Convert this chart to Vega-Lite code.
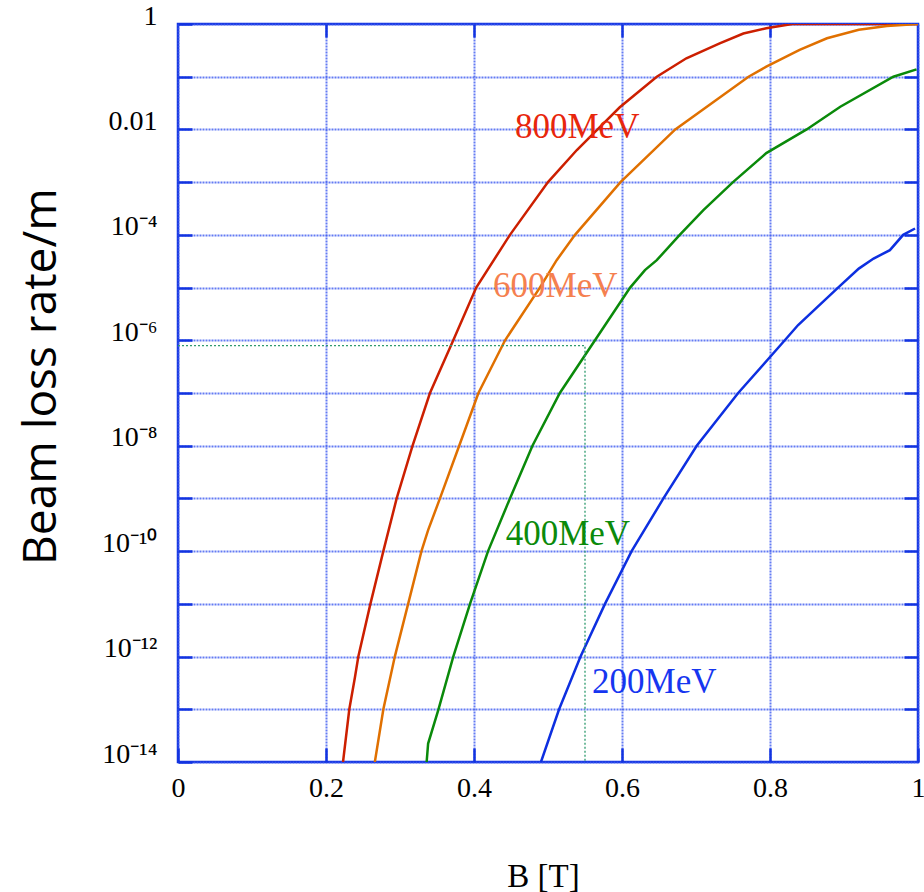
{
  "$schema": "https://vega.github.io/schema/vega-lite/v6.json",
  "autosize": "none",
  "width": 740,
  "height": 738,
  "padding": {"left": 178, "top": 24, "right": 6, "bottom": 130},
  "background": "white",
  "config": {
    "view": {"stroke": "#1233e0", "strokeWidth": 2.5},
    "axis": {
      "labelFont": "Liberation Serif",
      "labelFontSize": 28,
      "labelColor": "black",
      "titleColor": "black",
      "domain": false,
      "tickColor": "#1233e0",
      "tickWidth": 2.5,
      "tickSize": -14,
      "gridColor": "#3d5af0",
      "gridOpacity": 0.8,
      "gridWidth": 2,
      "gridDash": [2, 1]
    }
  },
  "datasets": {
    "curves": [
      {"B": 0.223, "rate": 1e-14, "energy": "800MeV"},
      {"B": 0.2315, "rate": 1e-13, "energy": "800MeV"},
      {"B": 0.239, "rate": 3.98e-13, "energy": "800MeV"},
      {"B": 0.2437, "rate": 1e-12, "energy": "800MeV"},
      {"B": 0.26, "rate": 1e-11, "energy": "800MeV"},
      {"B": 0.2775, "rate": 1e-10, "energy": "800MeV"},
      {"B": 0.2955, "rate": 1e-9, "energy": "800MeV"},
      {"B": 0.317, "rate": 1e-8, "energy": "800MeV"},
      {"B": 0.3405, "rate": 1e-7, "energy": "800MeV"},
      {"B": 0.372, "rate": 1e-6, "energy": "800MeV"},
      {"B": 0.403, "rate": 1e-5, "energy": "800MeV"},
      {"B": 0.4486, "rate": 1e-4, "energy": "800MeV"},
      {"B": 0.5, "rate": 1e-3, "energy": "800MeV"},
      {"B": 0.539, "rate": 4.07e-3, "energy": "800MeV"},
      {"B": 0.567, "rate": 1e-2, "energy": "800MeV"},
      {"B": 0.597, "rate": 2.63e-2, "energy": "800MeV"},
      {"B": 0.647, "rate": 0.1, "energy": "800MeV"},
      {"B": 0.687, "rate": 0.224, "energy": "800MeV"},
      {"B": 0.732, "rate": 0.427, "energy": "800MeV"},
      {"B": 0.764, "rate": 0.661, "energy": "800MeV"},
      {"B": 0.795, "rate": 0.832, "energy": "800MeV"},
      {"B": 0.83, "rate": 1, "energy": "800MeV"},
      {"B": 1.0, "rate": 1, "energy": "800MeV"},

      {"B": 0.266, "rate": 1e-14, "energy": "600MeV"},
      {"B": 0.2775, "rate": 1e-13, "energy": "600MeV"},
      {"B": 0.293, "rate": 1e-12, "energy": "600MeV"},
      {"B": 0.311, "rate": 1e-11, "energy": "600MeV"},
      {"B": 0.329, "rate": 1e-10, "energy": "600MeV"},
      {"B": 0.338, "rate": 2.51e-10, "energy": "600MeV"},
      {"B": 0.354, "rate": 1e-9, "energy": "600MeV"},
      {"B": 0.38, "rate": 1e-8, "energy": "600MeV"},
      {"B": 0.406, "rate": 1e-7, "energy": "600MeV"},
      {"B": 0.442, "rate": 1e-6, "energy": "600MeV"},
      {"B": 0.489, "rate": 1e-5, "energy": "600MeV"},
      {"B": 0.5117, "rate": 3.31e-5, "energy": "600MeV"},
      {"B": 0.5365, "rate": 1e-4, "energy": "600MeV"},
      {"B": 0.598, "rate": 1e-3, "energy": "600MeV"},
      {"B": 0.672, "rate": 1e-2, "energy": "600MeV"},
      {"B": 0.771, "rate": 0.1, "energy": "600MeV"},
      {"B": 0.795, "rate": 0.155, "energy": "600MeV"},
      {"B": 0.84, "rate": 0.324, "energy": "600MeV"},
      {"B": 0.877, "rate": 0.537, "energy": "600MeV"},
      {"B": 0.92, "rate": 0.776, "energy": "600MeV"},
      {"B": 0.958, "rate": 0.912, "energy": "600MeV"},
      {"B": 1.0, "rate": 1, "energy": "600MeV"},

      {"B": 0.336, "rate": 1e-14, "energy": "400MeV"},
      {"B": 0.338, "rate": 2.24e-14, "energy": "400MeV"},
      {"B": 0.352, "rate": 1e-13, "energy": "400MeV"},
      {"B": 0.372, "rate": 1e-12, "energy": "400MeV"},
      {"B": 0.3946, "rate": 1e-11, "energy": "400MeV"},
      {"B": 0.419, "rate": 1e-10, "energy": "400MeV"},
      {"B": 0.4486, "rate": 1e-9, "energy": "400MeV"},
      {"B": 0.479, "rate": 1e-8, "energy": "400MeV"},
      {"B": 0.516, "rate": 1e-7, "energy": "400MeV"},
      {"B": 0.5635, "rate": 1e-6, "energy": "400MeV"},
      {"B": 0.611, "rate": 1e-5, "energy": "400MeV"},
      {"B": 0.631, "rate": 2.14e-5, "energy": "400MeV"},
      {"B": 0.647, "rate": 3.31e-5, "energy": "400MeV"},
      {"B": 0.678, "rate": 1e-4, "energy": "400MeV"},
      {"B": 0.71, "rate": 2.95e-4, "energy": "400MeV"},
      {"B": 0.75, "rate": 1e-3, "energy": "400MeV"},
      {"B": 0.795, "rate": 3.55e-3, "energy": "400MeV"},
      {"B": 0.8495, "rate": 1e-2, "energy": "400MeV"},
      {"B": 0.895, "rate": 2.69e-2, "energy": "400MeV"},
      {"B": 0.9667, "rate": 0.1, "energy": "400MeV"},
      {"B": 0.998, "rate": 0.138, "energy": "400MeV"},

      {"B": 0.4905, "rate": 1e-14, "energy": "200MeV"},
      {"B": 0.515, "rate": 1e-13, "energy": "200MeV"},
      {"B": 0.544, "rate": 1e-12, "energy": "200MeV"},
      {"B": 0.577, "rate": 1e-11, "energy": "200MeV"},
      {"B": 0.613, "rate": 1e-10, "energy": "200MeV"},
      {"B": 0.656, "rate": 1e-9, "energy": "200MeV"},
      {"B": 0.701, "rate": 1e-8, "energy": "200MeV"},
      {"B": 0.757, "rate": 1e-7, "energy": "200MeV"},
      {"B": 0.82, "rate": 1e-6, "energy": "200MeV"},
      {"B": 0.838, "rate": 1.95e-6, "energy": "200MeV"},
      {"B": 0.892, "rate": 1e-5, "energy": "200MeV"},
      {"B": 0.92, "rate": 2.29e-5, "energy": "200MeV"},
      {"B": 0.94, "rate": 3.55e-5, "energy": "200MeV"},
      {"B": 0.962, "rate": 5.13e-5, "energy": "200MeV"},
      {"B": 0.98, "rate": 1e-4, "energy": "200MeV"},
      {"B": 0.996, "rate": 1.32e-4, "energy": "200MeV"}
    ],
    "refline": [
      {"B": 0, "rate": 7.9e-7, "seq": 0},
      {"B": 0.55, "rate": 7.9e-7, "seq": 1},
      {"B": 0.55, "rate": 1e-14, "seq": 2}
    ],
    "labels": [
      {"B": 0.4554, "rate": 6.78e-3, "label": "800MeV"},
      {"B": 0.4257, "rate": 6.52e-6, "label": "600MeV"},
      {"B": 0.4428, "rate": 1.3e-10, "label": "400MeV"},
      {"B": 0.5595, "rate": 2.0e-13, "label": "200MeV"}
    ]
  },
  "resolve": {
    "scale": {"color": "independent"},
    "axis": {"x": "independent", "y": "independent"}
  },
  "layer": [
    {
      "data": {"name": "curves"},
      "mark": {"type": "line", "strokeWidth": 2.5, "clip": true},
      "encoding": {
        "x": {
          "field": "B", "type": "quantitative",
          "scale": {"domain": [0, 1], "nice": false, "zero": false},
          "axis": {
            "orient": "bottom",
            "values": [0, 0.2, 0.4, 0.6, 0.8, 1],
            "format": "~g",
            "labelPadding": 26,
            "labelFlush": false,
            "title": "B [T]",
            "titleFont": "Liberation Serif",
            "titleFontSize": 33,
            "titleFontWeight": "normal",
            "titleX": 365,
            "titleY": 124,
            "titleAlign": "center",
            "titleBaseline": "alphabetic"
          }
        },
        "y": {
          "field": "rate", "type": "quantitative",
          "scale": {"type": "log", "domain": [1e-14, 1], "nice": false},
          "axis": {
            "orient": "left",
            "values": [1, 0.1, 0.01, 0.001, 1e-4, 1e-5, 1e-6, 1e-7, 1e-8, 1e-9, 1e-10, 1e-11, 1e-12, 1e-13, 1e-14],
            "labelExpr": "['1','','0.01','','10⁻⁴','','10⁻⁶','','10⁻⁸','','10⁻¹⁰','','10⁻¹²','','10⁻¹⁴'][round(-log(datum.value)/LN10)]",
            "labelPadding": 35,
            "labelBaseline": "alphabetic",
            "labelFlush": false,
            "labelAlign": "right",
            "title": "Beam loss rate/m",
            "titleFont": "Open Sans",
            "titleFontSize": 46,
            "titleFontWeight": "normal",
            "titleAngle": -90,
            "titleX": -123,
            "titleY": 352,
            "titleAlign": "center",
            "titleBaseline": "alphabetic"
          }
        },
        "color": {
          "field": "energy", "type": "nominal",
          "scale": {"domain": ["800MeV", "600MeV", "400MeV", "200MeV"], "range": ["#cc1f00", "#e07000", "#0a8a0a", "#0d2fe0"]},
          "legend": null
        }
      }
    },
    {
      "data": {"name": "refline"},
      "mark": {"type": "line", "strokeWidth": 1.3, "strokeDash": [2, 2], "color": "#2f9a6e"},
      "encoding": {
        "x": {
          "field": "B", "type": "quantitative",
          "scale": {"domain": [0, 1], "nice": false, "zero": false},
          "axis": {"orient": "top", "values": [0.2, 0.4, 0.6, 0.8], "labels": false, "grid": false, "title": null, "tickSize": -13}
        },
        "y": {
          "field": "rate", "type": "quantitative",
          "scale": {"type": "log", "domain": [1e-14, 1], "nice": false},
          "axis": {"orient": "right", "values": [0.1, 0.01, 0.001, 1e-4, 1e-5, 1e-6, 1e-7, 1e-8, 1e-9, 1e-10, 1e-11, 1e-12, 1e-13], "labels": false, "grid": false, "title": null}
        },
        "order": {"field": "seq", "type": "quantitative"}
      }
    },
    {
      "data": {"name": "labels"},
      "mark": {"type": "text", "font": "Liberation Serif", "fontSize": 35, "align": "left", "baseline": "alphabetic"},
      "encoding": {
        "x": {"field": "B", "type": "quantitative", "axis": null},
        "y": {"field": "rate", "type": "quantitative", "scale": {"type": "log"}, "axis": null},
        "text": {"field": "label"},
        "color": {
          "field": "label", "type": "nominal",
          "scale": {"domain": ["800MeV", "600MeV", "400MeV", "200MeV"], "range": ["#e8260c", "#f5804f", "#0b8a0b", "#1636f0"]},
          "legend": null
        }
      }
    }
  ]
}
